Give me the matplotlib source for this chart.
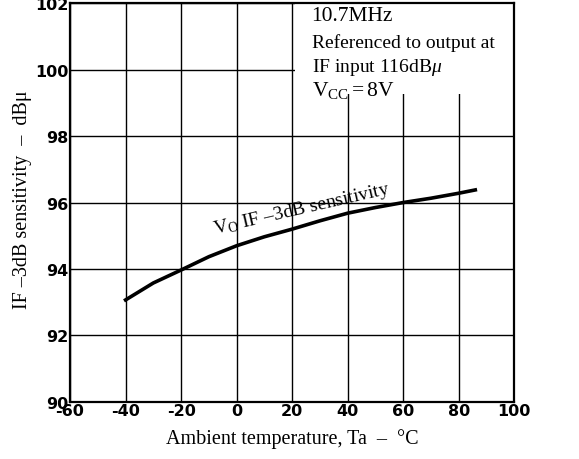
import matplotlib
matplotlib.use('Agg')
import matplotlib.pyplot as plt
from matplotlib.patches import Rectangle

# curve
temp = [-40, -30, -20, -10, 0, 10, 20, 30, 40, 50, 60, 70, 80, 86]
sens = [93.07, 93.58, 93.97, 94.37, 94.7, 94.97, 95.2, 95.45, 95.68, 95.85, 96.0, 96.13, 96.28, 96.38]

xticks = [-60, -40, -20, 0, 20, 40, 60, 80, 100]
yticks = [90, 92, 94, 96, 98, 100, 102]

plt.rcParams['mathtext.fontset'] = 'custom'
plt.rcParams['mathtext.rm'] = 'Liberation Serif'
plt.rcParams['mathtext.it'] = 'Liberation Serif:italic'
serif = 'Liberation Serif'

fig = plt.figure(figsize=(5.79, 4.6), dpi=100)
ax = fig.add_axes([0.121, 0.124, 0.767, 0.867])

ax.set_xlim(-60, 100)
ax.set_ylim(90, 102)
ax.set_xticks(xticks)
ax.set_yticks(yticks)
ax.set_xticklabels([str(t) for t in xticks], fontsize=11.5, fontweight='bold', family='DejaVu Sans Condensed')
ax.set_yticklabels([str(t) for t in yticks], fontsize=11.5, fontweight='bold', family='DejaVu Sans Condensed')
ax.tick_params(length=0, pad=1)
ax.grid(True, color='black', linewidth=1.0)
ax.set_axisbelow(True)
for s in ax.spines.values():
    s.set_linewidth(1.6)

# blank area behind the condition text
ax.add_patch(Rectangle((21, 99.28), 78.8, 2.72, facecolor='white', edgecolor='none', zorder=1.5))

ax.plot(temp, sens, color='black', linewidth=2.6, zorder=3)

ax.text(23.5, 95.83, r'V$_{\rm O}$ IF –3dB sensitivity', family=serif, fontsize=14,
        rotation=13, ha='center', va='center', zorder=4)

ax.text(27, 101.9, '10.7MHz', family=serif, fontsize=15.5, va='top', zorder=4)
ax.text(27, 101.1, 'Referenced to output at', family=serif, fontsize=14, va='top', zorder=4)
ax.text(27, 100.4, r'IF input 116dB$\mathit{\mu}$', family=serif, fontsize=14, va='top', zorder=4)
ax.text(27, 99.72, r'V$_{\rm CC}$$=$8V', family=serif, fontsize=15.5, va='top', zorder=4)

ax.set_xlabel('Ambient temperature, Ta  –  °C', family=serif, fontsize=14.5, labelpad=7)
ax.set_ylabel('IF –3dB sensitivity  –  dBμ', family=serif, fontsize=14.5)
ax.yaxis.set_label_coords(-0.086, 0.509)

fig.savefig('out.png', dpi=100)
